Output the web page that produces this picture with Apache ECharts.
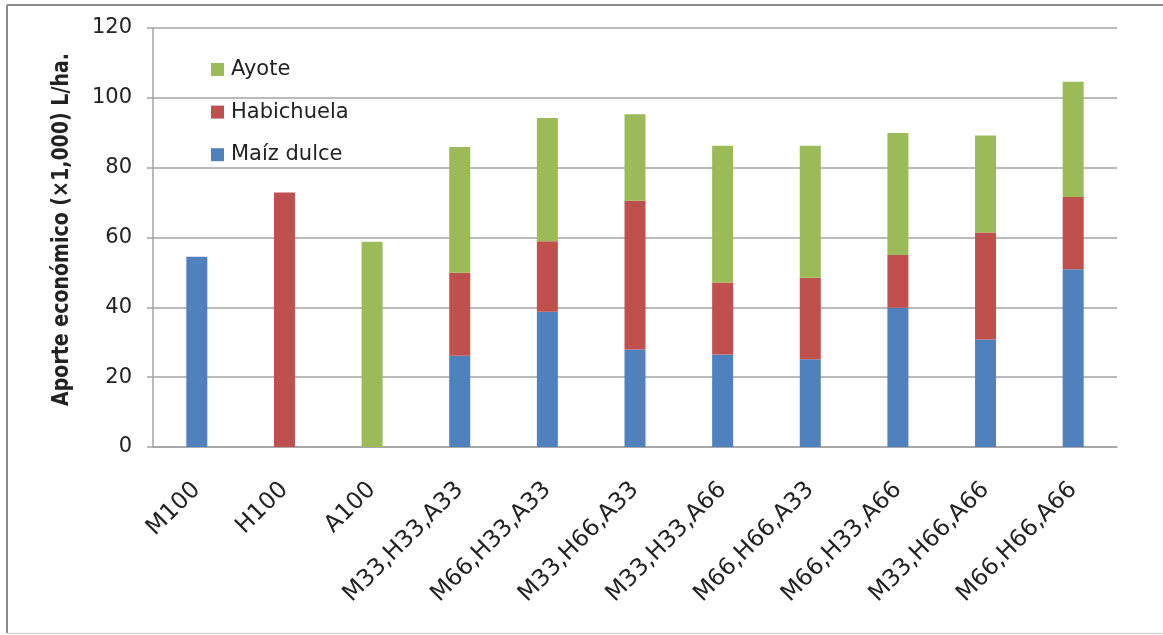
<!DOCTYPE html>
<html>
<head>
<meta charset="utf-8">
<script src="https://cdn.jsdelivr.net/npm/echarts@6/dist/echarts.min.js"></script>
<style>
  html, body { margin: 0; padding: 0; background: #ffffff; }
  #chart { width: 1163px; height: 635px; }
</style>
</head>
<body>
<div id="chart"></div>
<script>
// Treatment combinations (M = maíz dulce, H = habichuela, A = ayote, % of monoculture density)
const categories = ['M100', 'H100', 'A100', 'M33,H33,A33', 'M66,H33,A33', 'M33,H66,A33',
  'M33,H33,A66', 'M66,H66,A33', 'M66,H33,A66', 'M33,H66,A66', 'M66,H66,A66'];

// Economic contribution of each crop (×1,000 L/ha), stacked per treatment
const maizDulce = [54.5, null, null, 26.1, 38.7, 27.9, 26.5, 25.1, 39.9, 30.8, 50.9];
const habichuela = [null, 72.9, null, 23.8, 20.2, 42.6, 20.6, 23.4, 15.1, 30.6, 20.7];
const ayote = [null, null, 58.8, 36.0, 35.3, 24.8, 39.2, 37.8, 34.9, 27.8, 33.0];

// Value axis ticks
const yMin = 0, yMax = 120, yStep = 20;

const FONT = 'DejaVu Sans';
const TEXT = '#222222';
const GRID = '#a3a3a3';

const chart = echarts.init(document.getElementById('chart'), null, { renderer: 'canvas' });

chart.setOption({
  animation: false,
  backgroundColor: '#ffffff',
  textStyle: { fontFamily: FONT },
  grid: { left: 153, right: 46, top: 28, bottom: 188, containLabel: false },
  legend: {
    orient: 'vertical',
    left: 211,
    top: 59,
    padding: 0,
    itemWidth: 13,
    itemHeight: 13,
    itemGap: 21.6,
    icon: 'rect',
    data: ['Ayote', 'Habichuela', 'Maíz dulce'],
    textStyle: { fontFamily: FONT, fontSize: 21, color: TEXT, lineHeight: 20, padding: [0, 0, 0, 2] }
  },
  xAxis: {
    type: 'category',
    data: categories,
    axisLine: { show: true, lineStyle: { color: GRID, width: 1.5 } },
    axisTick: { show: false },
    axisLabel: {
      rotate: 45,
      interval: 0,
      margin: 39,
      fontFamily: FONT,
      fontSize: 23.5,
      color: TEXT
    }
  },
  yAxis: {
    type: 'value',
    min: yMin,
    max: yMax,
    interval: yStep,
    axisLine: { show: true, lineStyle: { color: GRID, width: 1.5 } },
    axisTick: { show: true, inside: false, length: 6, lineStyle: { color: GRID, width: 1.5 } },
    splitLine: { show: true, lineStyle: { color: GRID, width: 1.5 } },
    axisLabel: { margin: 21, fontFamily: FONT, fontSize: 21, color: TEXT }
  },
  series: [
    { name: 'Maíz dulce', type: 'bar', stack: 'total', data: maizDulce, barWidth: 21,
      itemStyle: { color: '#4f81bd' } },
    { name: 'Habichuela', type: 'bar', stack: 'total', data: habichuela, barWidth: 21,
      itemStyle: { color: '#c0504d' } },
    { name: 'Ayote', type: 'bar', stack: 'total', data: ayote, barWidth: 21,
      itemStyle: { color: '#9bbb59' } }
  ],
  graphic: [
    // chart frame
    { type: 'line', shape: { x1: 7, y1: 5, x2: 1163, y2: 5 }, style: { stroke: '#8a8a8a', lineWidth: 2 }, silent: true },
    { type: 'line', shape: { x1: 7, y1: 5, x2: 7, y2: 633 }, style: { stroke: '#8a8a8a', lineWidth: 2 }, silent: true },
    { type: 'line', shape: { x1: 8, y1: 633.5, x2: 1163, y2: 633.5 }, style: { stroke: '#d6d6d6', lineWidth: 1.5 }, silent: true },
    // value axis title
    {
      type: 'text',
      x: 62,
      y: 229.5,
      rotation: Math.PI / 2,
      scaleY: 1.2,
      style: {
        text: 'Aporte económico (×1,000) L/ha.',
        fontFamily: FONT,
        fontSize: 19,
        fontWeight: 'bold',
        fill: TEXT,
        align: 'center',
        verticalAlign: 'middle'
      }
    }
  ]
});
</script>
</body>
</html>
